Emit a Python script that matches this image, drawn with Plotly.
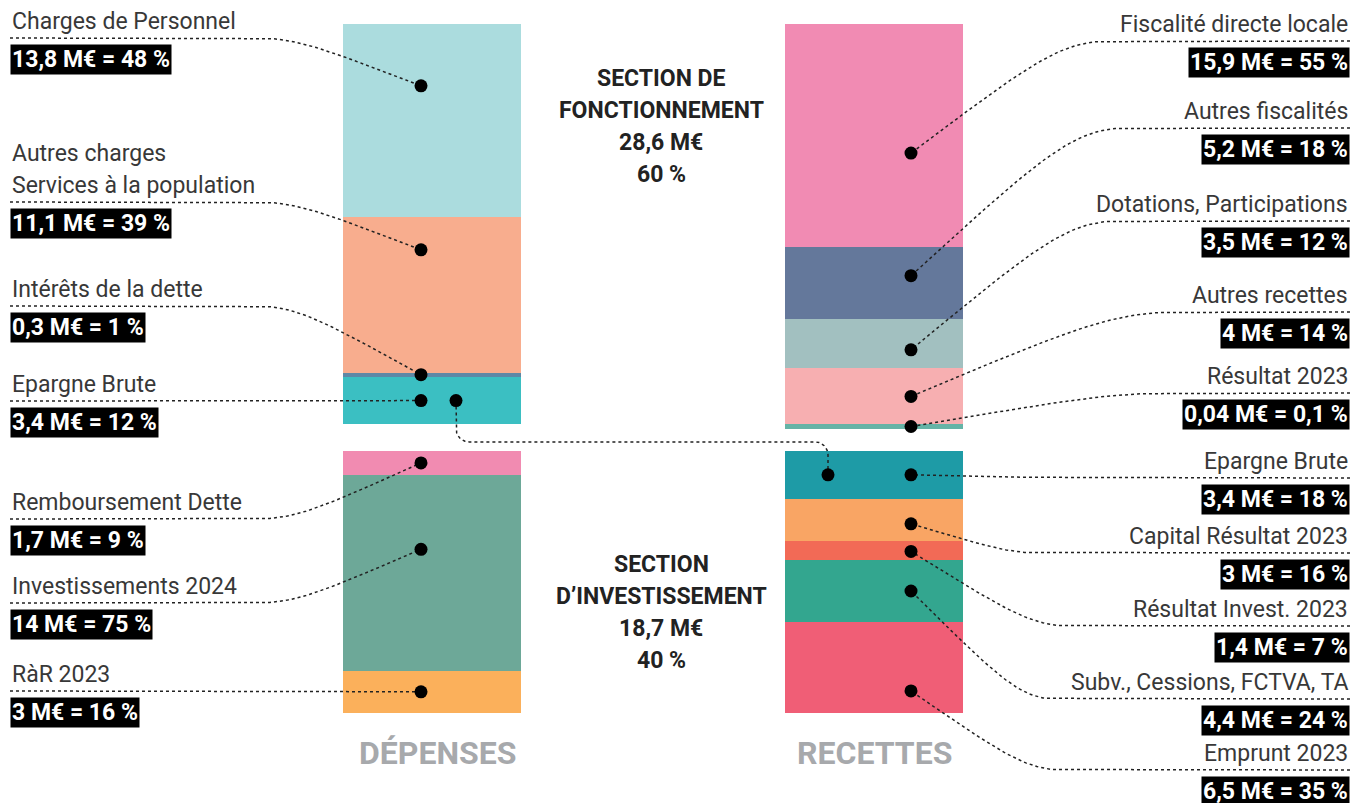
import math
import plotly.graph_objects as go

# ---------------- DATA ----------------
dep_fonc_labels = ["Charges de Personnel", "Autres charges<br>Services à la population",
                   "Intérêts de la dette", "Epargne Brute"]
dep_fonc_values = [13.8, 11.1, 0.3, 3.4]
dep_fonc_pct = [48, 39, 1, 12]

dep_inv_labels = ["Remboursement Dette", "Investissements 2024", "RàR 2023"]
dep_inv_values = [1.7, 14, 3]
dep_inv_pct = [9, 75, 16]

rec_fonc_labels = ["Fiscalité directe locale", "Autres fiscalités", "Dotations, Participations",
                   "Autres recettes", "Résultat 2023"]
rec_fonc_values = [15.9, 5.2, 3.5, 4, 0.04]
rec_fonc_pct = [55, 18, 12, 14, 0.1]

rec_inv_labels = ["Epargne Brute", "Capital Résultat 2023", "Résultat Invest. 2023",
                  "Subv., Cessions, FCTVA, TA", "Emprunt 2023"]
rec_inv_values = [3.4, 3, 1.4, 4.4, 6.5]
rec_inv_pct = [18, 16, 7, 24, 35]

section_names = [["SECTION DE", "FONCTIONNEMENT"], ["SECTION", "D’INVESTISSEMENT"]]
section_totals = [28.6, 18.7]
section_pct = [60, 40]
side_titles = ["DÉPENSES", "RECETTES"]

# ---------------- STYLE / LAYOUT ----------------
W, H = 1353, 803
TOP_PX = 24            # pixel row of the top of the bars
PX_PER_M = 14.0        # pixels per M€
INV_START = 30.5       # where the investissement block starts (M€ units, incl. gap)
MIN_VIS = 0.3          # minimum drawn height of a thin segment
BAR_W = 178
DEP_X, REC_X = 432, 874
DEP_DOT_X, REC_DOT_X = 421, 911
FONT = "Roboto"
TXT = "#383838"
LBL_SIZE = 23

dep_fonc_colors = ["#ABDCDE", "#F8AD8E", "#5E88A6", "#3BBFC2"]
dep_inv_colors = ["#F18BB1", "#6DA898", "#FBB05B"]
rec_fonc_colors = ["#F18BB3", "#64789B", "#A2C0C0", "#F7AFB1", "#65B3A6"]
rec_inv_colors = ["#1E9BA6", "#F9A564", "#F26A56", "#33A68F", "#F05E76"]

dep_fonc_dotf = [0.32, 0.21, 0.5, 0.5]
dep_inv_dotf = [0.5, 0.38, 0.5]
rec_fonc_dotf = [0.58, 0.4, 0.62, 0.5, 0.5]
rec_inv_dotf = [0.5, 0.6, 0.55, 0.5, 0.76]

dep_fonc_line_px = [38, 202, 306, 401]
dep_inv_line_px = [519, 603, 691]
rec_fonc_line_px = [41, 128, 221, 312, 393]
rec_inv_line_px = [478, 553, 626, 699, 770]
LEFT_CURVE_X = 255
rec_fonc_curve_x = [1110, 1127, 1119, 1179, 1175]
rec_inv_curve_x = [1100, 1041, 1071, 1056, 1064]


def ypx(px):
    """pixel row of a layout element -> y-axis units"""
    return (px - TOP_PX) / PX_PER_M


def fr(v):
    return f"{v:g}".replace(".", ",")


fig = go.Figure()
annotations = []
dots_x, dots_y = [], []


def bar_block(xc, start, values, colors, dotf, dot_x):
    heights = [max(v, MIN_VIS) for v in values]
    bases, ys = [], []
    cur = start
    for h, f in zip(heights, dotf):
        bases.append(cur)
        ys.append(cur + f * h)
        cur += h
    fig.add_trace(go.Bar(x=[xc] * len(values), y=heights, base=bases, width=BAR_W,
                         marker=dict(color=colors, line=dict(width=0)),
                         hoverinfo="skip", showlegend=False))
    for y in ys:
        dots_x.append(dot_x)
        dots_y.append(y)
    return ys


def bezier(p0, p3, a=0.25, b=0.4, c=0.2, n=40):
    dx, dy = p3[0] - p0[0], p3[1] - p0[1]
    p1 = (p0[0] + a * dx, p0[1])
    p2 = (p0[0] + b * dx, p0[1] + c * dy)
    xs, ys = [], []
    for i in range(n + 1):
        t = i / n
        mt = 1 - t
        xs.append(mt**3 * p0[0] + 3 * mt**2 * t * p1[0] + 3 * mt * t**2 * p2[0] + t**3 * p3[0])
        ys.append(mt**3 * p0[1] + 3 * mt**2 * t * p1[1] + 3 * mt * t**2 * p2[1] + t**3 * p3[1])
    return xs, ys


conn_x, conn_y = [], []


def add_conn(xs, ys):
    conn_x.extend(xs + [None])
    conn_y.extend(ys + [None])


def labels(side, names, values, pcts, line_px, dot_ys, dot_x, curve_x):
    for i, (nm, v, p, lp, dy) in enumerate(zip(names, values, pcts, line_px, dot_ys)):
        ly = ypx(lp)
        parts = nm.split("<br>")
        n = len(parts)
        if side == "left":
            x_edge, anchor, cx = 10, "left", LEFT_CURVE_X
        else:
            x_edge, anchor, cx = 1350, "right", curve_x[i]
        for j, t in enumerate(parts):
            annotations.append(dict(x=x_edge, y=ypx(lp - 17 - 32 * (n - 1 - j)), text=t,
                                    xanchor=anchor, yanchor="middle", showarrow=False,
                                    font=dict(family=FONT, size=LBL_SIZE, color=TXT)))
        annotations.append(dict(x=x_edge, y=ypx(lp + 21), text=f"{fr(v)} M€ = {fr(p)} %",
                                xanchor=anchor, yanchor="middle", showarrow=False,
                                bgcolor="black", borderpad=1,
                                font=dict(family=FONT, size=LBL_SIZE, color="white", weight="bold")))
        bx, by = bezier((cx, ly), (dot_x, dy))
        add_conn([x_edge] + bx, [ly] + by)


# bars
y1 = bar_block(DEP_X, 0, dep_fonc_values, dep_fonc_colors, dep_fonc_dotf, DEP_DOT_X)
y2 = bar_block(DEP_X, INV_START, dep_inv_values, dep_inv_colors, dep_inv_dotf, DEP_DOT_X)
y3 = bar_block(REC_X, 0, rec_fonc_values, rec_fonc_colors, rec_fonc_dotf, REC_DOT_X)
y4 = bar_block(REC_X, INV_START, rec_inv_values, rec_inv_colors, rec_inv_dotf, REC_DOT_X)

labels("left", dep_fonc_labels, dep_fonc_values, dep_fonc_pct, dep_fonc_line_px, y1, DEP_DOT_X, None)
labels("left", dep_inv_labels, dep_inv_values, dep_inv_pct, dep_inv_line_px, y2, DEP_DOT_X, None)
labels("right", rec_fonc_labels, rec_fonc_values, rec_fonc_pct, rec_fonc_line_px, y3, REC_DOT_X, rec_fonc_curve_x)
labels("right", rec_inv_labels, rec_inv_values, rec_inv_pct, rec_inv_line_px, y4, REC_DOT_X, rec_inv_curve_x)

# Epargne brute link (dépenses -> recettes)
ax_, ay_ = 456, y1[3]
bx_, by_ = 828, y4[0]
link_y = (sum(dep_fonc_values) + INV_START) / 2 + 0.3
r = 13.0
ry = r / PX_PER_M
lx, ly_ = [ax_], [ay_]
for k in range(11):
    th = math.pi * k / 20  # 0 -> pi/2
    lx.append(ax_ + r - r * math.cos(th))
    ly_.append(link_y - ry + ry * math.sin(th))
for k in range(11):
    th = math.pi * k / 20
    lx.append(bx_ - r + r * math.sin(th))
    ly_.append(link_y + ry - ry * math.cos(th))
lx.append(bx_)
ly_.append(by_)
add_conn(lx, ly_)
dots_x += [ax_, bx_]
dots_y += [ay_, by_]

fig.add_trace(go.Scatter(x=conn_x, y=conn_y, mode="lines",
                         line=dict(color="#222222", width=1.5, dash="dot"),
                         hoverinfo="skip", showlegend=False))
fig.add_trace(go.Scatter(x=dots_x, y=dots_y, mode="markers",
                         marker=dict(color="black", size=13),
                         hoverinfo="skip", showlegend=False))

# section texts
sec_px = [78, 564]
for names, tot, pc, top in zip(section_names, section_totals, section_pct, sec_px):
    lines = names + [f"{fr(tot)} M€", f"{fr(pc)} %"]
    for j, t in enumerate(lines):
        annotations.append(dict(x=661, y=ypx(top + 32 * j), text=t, showarrow=False,
                                xanchor="center", yanchor="middle",
                                font=dict(family=FONT, size=23, color="#222222", weight="bold")))

for t, xc in zip(side_titles, [437, 874]):
    annotations.append(dict(x=xc, y=ypx(753), text=t, showarrow=False,
                            xanchor="center", yanchor="middle",
                            font=dict(family=FONT, size=32, color="#A7A9AC", weight="bold")))

fig.update_layout(
    width=W, height=H, margin=dict(l=0, r=0, t=0, b=0),
    paper_bgcolor="white", plot_bgcolor="white",
    barmode="overlay", bargap=0,
    xaxis=dict(range=[0, W], visible=False, fixedrange=True),
    yaxis=dict(range=[ypx(H), ypx(0)], visible=False, fixedrange=True),
    annotations=annotations,
)

fig.write_html("out.html", config={"displayModeBar": False},
               post_script="document.body.style.margin='0';document.body.style.overflow='hidden';")
